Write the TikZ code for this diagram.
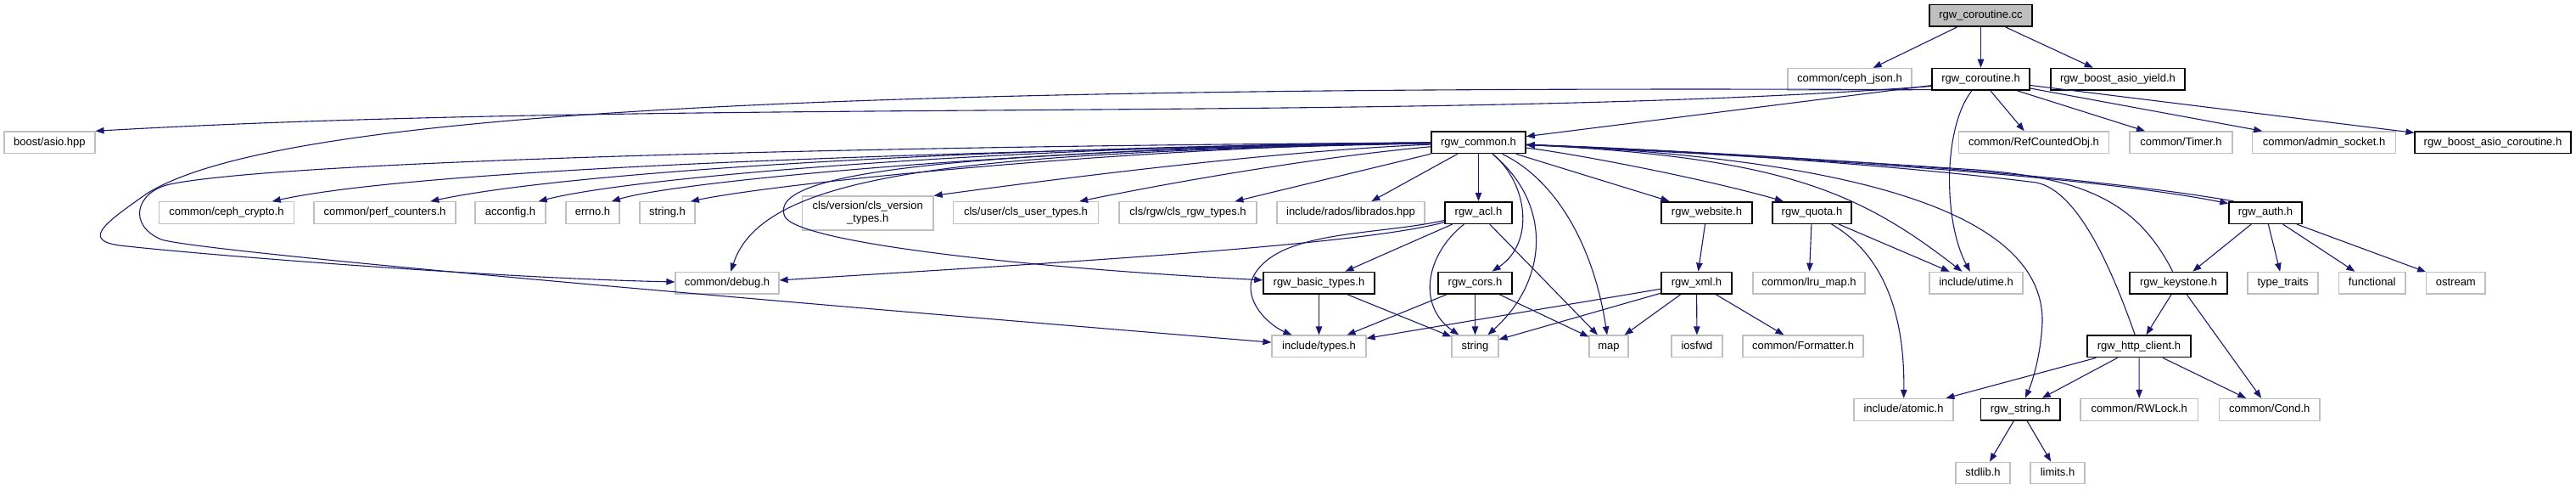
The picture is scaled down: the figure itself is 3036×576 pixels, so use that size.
\documentclass[tikz,border=0pt]{standalone}
\usepackage{fontspec}
\setmainfont{Liberation Sans}
\usetikzlibrary{arrows.meta}
\definecolor{edgeblue}{HTML}{191970}
\definecolor{boxgrey}{HTML}{BFBFBF}
\tikzset{
  filebox/.style={draw=boxgrey, line width=1.2pt, inner sep=0pt, minimum height=25.6pt, font=\fontsize{13pt}{15pt}\selectfont},
  hdr/.style={filebox, text height=9.4pt, text depth=2.6pt},
  doc/.style={hdr, draw=black, line width=1.6pt},
  inc/.style={draw=edgeblue, line width=1.1pt, -{Triangle[length=10pt,width=7.5pt]}}
}

\begin{document}
\begin{tikzpicture}[x=1pt, y=-1pt]
  \useasboundingbox (0,0) rectangle (3036,576);
  % Root file
  \node[doc, fill=boxgrey, minimum width=121pt] (cc) at (2334.5,18.4) {rgw\_coroutine.cc};
  % Rank 1
  \node[hdr, minimum width=146pt] (json) at (2180,93.3) {common/ceph\_json.h};
  \node[doc, minimum width=115pt] (coro) at (2334.5,93.3) {rgw\_coroutine.h};
  \node[doc, minimum width=158pt] (yield) at (2496,93.3) {rgw\_boost\_asio\_yield.h};
  % Rank 2
  \node[hdr, minimum width=107pt] (asio) at (58.4,167.7) {boost/asio.hpp};
  \node[doc, minimum width=111pt] (common) at (1742.5,167.7) {rgw\_common.h};
  \node[hdr, minimum width=177.5pt] (refobj) at (2397,167.7) {common/RefCountedObj.h};
  \node[hdr, minimum width=121pt] (timer) at (2570.5,167.7) {common/Timer.h};
  \node[hdr, minimum width=168.5pt] (adminsock) at (2739,167.7) {common/admin\_socket.h};
  \node[doc, minimum width=183.5pt] (asiocoro) at (2938,167.7) {rgw\_boost\_asio\_coroutine.h};
  % Rank 3
  \node[hdr, minimum width=158.4pt] (crypto) at (267,250.5) {common/ceph\_crypto.h};
  \node[hdr, minimum width=167pt] (perf) at (453.5,250.5) {common/perf\_counters.h};
  \node[hdr, minimum width=83pt] (acconfig) at (601.5,250.5) {acconfig.h};
  \node[hdr, minimum width=63pt] (errno) at (698.5,250.5) {errno.h};
  \node[hdr, minimum width=65pt] (stringh) at (786.5,250.5) {string.h};
  \node[filebox, minimum width=154.5pt, minimum height=40pt, align=center] (clsver) at (1022.75,251) {cls/version/cls\_version\\\_types.h};
  \node[hdr, minimum width=170.5pt] (clsuser) at (1209,250.5) {cls/user/cls\_user\_types.h};
  \node[hdr, minimum width=162pt] (clsrgw) at (1400,250.5) {cls/rgw/cls\_rgw\_types.h};
  \node[hdr, minimum width=174pt] (librados) at (1592,250.5) {include/rados/librados.hpp};
  \node[doc, minimum width=79pt] (acl) at (1742.5,250.5) {rgw\_acl.h};
  \node[doc, minimum width=107pt] (website) at (2011.5,250.5) {rgw\_website.h};
  \node[doc, minimum width=93pt] (quota) at (2135.5,250.5) {rgw\_quota.h};
  \node[doc, minimum width=86pt] (auth) at (2670,250.5) {rgw\_auth.h};
  % Rank 4
  \node[hdr, minimum width=122pt] (debug) at (857,333.2) {common/debug.h};
  \node[doc, minimum width=131pt] (basic) at (1554.5,333.2) {rgw\_basic\_types.h};
  \node[doc, minimum width=87pt] (cors) at (1738.5,333.2) {rgw\_cors.h};
  \node[doc, minimum width=83pt] (xml) at (1999.5,333.2) {rgw\_xml.h};
  \node[hdr, minimum width=132pt] (lru) at (2132,333.2) {common/lru\_map.h};
  \node[hdr, minimum width=110pt] (utime) at (2329,333.2) {include/utime.h};
  \node[doc, minimum width=115pt] (keystone) at (2567.5,333.2) {rgw\_keystone.h};
  \node[hdr, minimum width=83pt] (traits) at (2690.5,333.2) {type\_traits};
  \node[hdr, minimum width=78.5pt] (functional) at (2795.75,333.2) {functional};
  \node[hdr, minimum width=69.4pt] (ostream) at (2894.3,333.2) {ostream};
  % Rank 5
  \node[hdr, minimum width=111pt] (types) at (1554.5,407.8) {include/types.h};
  \node[hdr, minimum width=55pt] (string) at (1738.5,407.8) {string};
  \node[hdr, minimum width=46pt] (map) at (1896,407.8) {map};
  \node[hdr, minimum width=60pt] (iosfwd) at (2000,407.8) {iosfwd};
  \node[hdr, minimum width=142pt] (formatter) at (2125,407.8) {common/Formatter.h};
  \node[doc, minimum width=122pt] (http) at (2521,407.8) {rgw\_http\_client.h};
  % Rank 6
  \node[hdr, minimum width=117pt] (atomic) at (2243.5,482.3) {include/atomic.h};
  \node[doc, minimum width=93.5pt] (rgwstring) at (2381.25,482.3) {rgw\_string.h};
  \node[hdr, minimum width=138.5pt] (rwlock) at (2521.25,482.3) {common/RWLock.h};
  \node[hdr, minimum width=118.5pt] (cond) at (2674.75,482.3) {common/Cond.h};
  % Rank 7
  \node[hdr, minimum width=64pt] (stdlib) at (2337,557) {stdlib.h};
  \node[hdr, minimum width=64pt] (limits) at (2425,557) {limits.h};

  % rgw_coroutine.cc
  \draw[inc] (cc) -- (json);
  \draw[inc] (cc) -- (coro);
  \draw[inc] (cc) -- (yield);
  % rgw_coroutine.h
  \draw[inc] (coro.188) .. controls (1700,145) and (800,115) .. (asio.north east);
  \draw[inc] (coro.192) .. controls (1000,100) and (330,130) .. (173,228)
    .. controls (125,262) and (90,285) .. (150,290)
    .. controls (260,302) and (600,328) .. (debug);
  \draw[inc] (coro) -- (common);
  \draw[inc] (coro) -- (refobj);
  \draw[inc] (coro) -- (timer);
  \draw[inc] (coro) -- (adminsock);
  \draw[inc] (coro) -- (asiocoro);
  \draw[inc] (coro) .. controls (2290,150) and (2290,260) .. (utime);
  % rgw_common.h, to the left
  \draw[inc] (common) .. controls (1100,178) and (500,198) .. (crypto.14);
  \draw[inc] (common) .. controls (1200,172) and (680,200) .. (perf.14);
  \draw[inc] (common) .. controls (1250,170) and (760,205) .. (acconfig.22);
  \draw[inc] (common) .. controls (1300,170) and (810,210) .. (errno.31);
  \draw[inc] (common) .. controls (1350,172) and (920,215) .. (stringh.26);
  \draw[inc] (common) .. controls (1500,178) and (1250,210) .. (clsver.north east);
  \draw[inc] (common) .. controls (1550,185) and (1380,215) .. (clsuser.12);
  \draw[inc] (common) -- (clsrgw);
  \draw[inc] (common) -- (librados);
  \draw[inc] (common) .. controls (1150,180) and (900,200) .. (debug);
  \draw[inc] (common) .. controls (1150,178) and (900,200) .. (925,255)
    .. controls (940,285) and (1200,315) .. (basic);
  \draw[inc] (common) .. controls (1000,172) and (330,190) .. (200,217)
    .. controls (160,226) and (150,265) .. (190,282)
    .. controls (240,298) and (1000,362) .. (types);
  % rgw_common.h, down and to the right
  \draw[inc] (common) -- (acl);
  \draw[inc] (common) .. controls (1800,215) and (1810,285) .. (cors);
  \draw[inc] (common) .. controls (1830,240) and (1825,330) .. (string);
  \draw[inc] (common) .. controls (1840,215) and (1880,300) .. (map);
  \draw[inc] (common) -- (website);
  \draw[inc] (common) .. controls (1850,180) and (2003,209) .. (quota.158);
  \draw[inc] (common) .. controls (2100,185) and (2190,225) .. (utime.141);
  \draw[inc] (common) .. controls (2150,185) and (2410,240) .. (2407,380)
    .. controls (2405,420) and (2395,450) .. (rgwstring);
  \draw[inc] (common) .. controls (2100,185) and (2450,205) .. (auth.166);
  % Back to rgw_common.h
  \draw[inc] (auth.160) .. controls (2450,205) and (2100,182) .. (common.-3);
  \draw[inc] (keystone) .. controls (2520,240) and (2460,210) .. (2330,200)
    .. controls (2100,185) and (1900,173) .. (common.-3);
  \draw[inc] (http) .. controls (2490,320) and (2450,225) .. (2400,215)
    .. controls (2200,190) and (1900,173) .. (common.-3);
  % rgw_acl.h
  \draw[inc] (acl) .. controls (1600,290) and (1200,312) .. (debug.3);
  \draw[inc] (acl) .. controls (1620,278) and (1500,270) .. (1475,330)
    .. controls (1468,360) and (1500,385) .. (types);
  \draw[inc] (acl) -- (basic);
  \draw[inc] (acl) .. controls (1680,300) and (1670,360) .. (string);
  \draw[inc] (acl) -- (map);
  % rgw_basic_types.h, rgw_cors.h
  \draw[inc] (basic) -- (types);
  \draw[inc] (basic) -- (string);
  \draw[inc] (cors) -- (types);
  \draw[inc] (cors) -- (string);
  \draw[inc] (cors) -- (map);
  % rgw_website.h, rgw_xml.h
  \draw[inc] (website) -- (xml);
  \draw[inc] (xml) -- (types);
  \draw[inc] (xml) -- (string);
  \draw[inc] (xml) -- (map);
  \draw[inc] (xml) -- (iosfwd);
  \draw[inc] (xml) -- (formatter);
  % rgw_quota.h
  \draw[inc] (quota) -- (lru);
  \draw[inc] (quota) .. controls (2220,300) and (2245,370) .. (atomic);
  \draw[inc] (quota) -- (utime);
  % rgw_auth.h
  \draw[inc] (auth) -- (keystone);
  \draw[inc] (auth) -- (traits);
  \draw[inc] (auth) -- (functional);
  \draw[inc] (auth) -- (ostream);
  % rgw_keystone.h
  \draw[inc] (keystone) -- (http);
  \draw[inc] (keystone) -- (cond);
  % rgw_http_client.h
  \draw[inc] (http) -- (atomic);
  \draw[inc] (http) -- (rgwstring);
  \draw[inc] (http) -- (rwlock);
  \draw[inc] (http) -- (cond);
  % rgw_string.h
  \draw[inc] (rgwstring) -- (stdlib);
  \draw[inc] (rgwstring) -- (limits);
\end{tikzpicture}
\end{document}
